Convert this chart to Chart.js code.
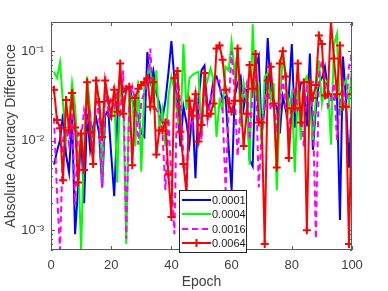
<!DOCTYPE html>
<html><head><meta charset="utf-8">
<script src="https://cdn.jsdelivr.net/npm/chart.js@4/dist/chart.umd.min.js"></script>
<style>html,body{margin:0;padding:0;background:#fff;}#wrap{width:388px;height:291px;}</style>
</head><body><div id="wrap"><canvas id="c" width="388" height="291"></canvas></div>
<script>
const epochs = Array.from({length:100},(_, i)=>i+1);
const seriesLabels = ['0.0001','0.0004','0.0016','0.0064'];
const s0001 = [0.0054,0.0076,0.0102,0.02,0.007,0.0044,0.019,0.0009,0.003,0.012,0.002,0.02,0.008,0.0144,0.018,0.012,0.003,0.019,0.022,0.007,0.0024,0.016,0.05,0.035,0.037,0.04,0.029,0.022,0.019,0.012,0.011,0.098,0.045,0.061,0.034,0.026,0.017,0.028,0.057,0.13,0.048,0.025,0.0086,0.024,0.016,0.009,0.022,0.0038,0.028,0.061,0.069,0.022,0.028,0.048,0.052,0.04,0.029,0.031,0.0086,0.0028,0.031,0.044,0.052,0.023,0.038,0.0061,0.0052,0.067,0.087,0.012,0.024,0.14,0.037,0.026,0.024,0.012,0.031,0.022,0.031,0.12,0.014,0.027,0.044,0.045,0.0144,0.094,0.0079,0.023,0.044,0.05,0.067,0.037,0.031,0.029,0.034,0.0013,0.087,0.029,0.005,0.026];
const s0004 = [0.059,0.05,0.075,0.026,0.0102,0.017,0.044,0.024,0.0067,0.0006,0.009,0.052,0.022,0.007,0.042,0.028,0.0037,0.04,0.03,0.019,0.037,0.0034,0.04,0.028,0.0007,0.035,0.028,0.0086,0.047,0.0045,0.04,0.052,0.067,0.022,0.061,0.013,0.022,0.0086,0.031,0.052,0.037,0.019,0.0138,0.12,0.022,0.05,0.054,0.057,0.059,0.011,0.037,0.047,0.064,0.048,0.011,0.028,0.022,0.067,0.061,0.127,0.057,0.103,0.0144,0.044,0.028,0.0054,0.2,0.031,0.04,0.0086,0.052,0.057,0.028,0.044,0.0028,0.022,0.094,0.048,0.022,0.034,0.0044,0.037,0.0102,0.044,0.052,0.024,0.0102,0.031,0.079,0.026,0.044,0.048,0.009,0.12,0.157,0.019,0.04,0.048,0.026,0.067];
const s0016 = [0.018,0.0026,0.0006,0.0102,0.0144,0.009,0.024,0.0019,0.012,0.0102,0.022,0.016,0.02,0.0072,0.031,0.018,0.003,0.04,0.022,0.03,0.022,0.037,0.018,0.061,0.0008,0.026,0.04,0.028,0.009,0.028,0.034,0.044,0.107,0.026,0.022,0.02,0.013,0.0028,0.018,0.0037,0.0009,0.059,0.024,0.0067,0.003,0.028,0.0144,0.034,0.024,0.0102,0.044,0.017,0.028,0.04,0.045,0.047,0.022,0.0028,0.022,0.1,0.034,0.0067,0.024,0.034,0.044,0.0102,0.034,0.067,0.003,0.012,0.028,0.04,0.022,0.028,0.0144,0.024,0.052,0.022,0.012,0.028,0.04,0.022,0.024,0.0086,0.04,0.034,0.022,0.0008,0.052,0.079,0.04,0.024,0.028,0.044,0.0102,0.028,0.044,0.022,0.067,0.094];
const s0064 = [0.037,0.017,0.0138,0.0036,0.0285,0.013,0.034,0.014,0.0034,0.012,0.0047,0.045,0.0125,0.0055,0.047,0.027,0.011,0.047,0.028,0.019,0.037,0.021,0.073,0.02,0.038,0.04,0.0053,0.03,0.038,0.042,0.045,0.05,0.024,0.045,0.007,0.013,0.013,0.016,0.0042,0.0014,0.05,0.06,0.0126,0.0055,0.0026,0.028,0.019,0.033,0.0098,0.015,0.057,0.019,0.02,0.026,0.107,0.116,0.08,0.037,0.026,0.021,0.028,0.107,0.028,0.0087,0.02,0.07,0.038,0.093,0.016,0.016,0.0007,0.047,0.067,0.026,0.005,0.073,0.1,0.052,0.0064,0.023,0.023,0.073,0.016,0.045,0.001,0.045,0.03,0.042,0.15,0.12,0.032,0.033,0.22,0.083,0.033,0.116,0.024,0.024,0.0007,0.033];
const xTicks = [0,20,40,60,80,100];
const yTicks = [0.001,0.01,0.1];
const yTickText = ['10\u207B\u00B3','10\u207B\u00B2','10\u207B\u00B9'];

const colors = ['#0000ff','#00ff00','#ff00ff','#ff0000'];
const values = [s0001,s0004,s0016,s0064];
const toPts = arr => arr.map((v,i)=>({x:epochs[i], y:v}));

const datasets = values.map((arr,k)=>({
  label: seriesLabels[k],
  data: toPts(arr),
  borderColor: colors[k],
  backgroundColor: colors[k],
  borderWidth: 2,
  borderDash: k===2 ? [6,4] : [],
  pointRadius: k===3 ? 4 : 0,
  pointStyle: 'cross',
  pointBorderWidth: 2,
  pointHoverRadius: 0,
  tension: 0,
  order: 4-k
}));

const TXT = '#404040';
const axesPlugin = {
  id:'axesPlugin',
  afterDatasetsDraw(chart){
    const {ctx, chartArea:a, scales:{x,y}} = chart;
    ctx.save();
    ctx.strokeStyle = '#5a5a5a';
    ctx.lineWidth = 1;
    ctx.strokeRect(a.left+0.5, a.top+0.5, a.right-a.left-1, a.bottom-a.top-1);
    ctx.beginPath();
    xTicks.forEach(v=>{
      const px = Math.round(x.getPixelForValue(v))+0.5;
      ctx.moveTo(px,a.bottom); ctx.lineTo(px,a.bottom-4);
      ctx.moveTo(px,a.top); ctx.lineTo(px,a.top+4);
    });
    for (let e=-4;e<=0;e++){
      for (let m=1;m<=9;m++){
        const v = m*Math.pow(10,e);
        if (v < y.min || v > y.max) continue;
        const py = Math.round(y.getPixelForValue(v))+0.5;
        const len = m===1 ? 4 : 2;
        ctx.moveTo(a.left,py); ctx.lineTo(a.left+len,py);
        ctx.moveTo(a.right,py); ctx.lineTo(a.right-len,py);
      }
    }
    ctx.stroke();
    // legend
    const L=179, T=190, W=67, H=62;
    ctx.fillStyle='#fff';
    ctx.fillRect(L,T,W,H);
    ctx.strokeStyle='#262626';
    ctx.strokeRect(L+0.5,T+0.5,W,H);
    const rows=[200,214,229,243];
    ctx.font='11px "Liberation Sans", Arial, sans-serif';
    ctx.textBaseline='middle';
    chart.data.datasets.forEach((ds,k)=>{
      const yy=rows[k];
      ctx.strokeStyle=ds.borderColor;
      ctx.lineWidth=2;
      ctx.setLineDash(ds.borderDash||[]);
      ctx.beginPath(); ctx.moveTo(182,yy); ctx.lineTo(211,yy); ctx.stroke();
      ctx.setLineDash([]);
      if (ds.pointRadius>0){
        ctx.beginPath();
        ctx.moveTo(196.5-4,yy); ctx.lineTo(196.5+4,yy);
        ctx.moveTo(196.5,yy-4); ctx.lineTo(196.5,yy+4);
        ctx.stroke();
      }
      ctx.fillStyle='#1a1a1a';
      ctx.fillText(ds.label,212,yy+0.5);
    });
    ctx.restore();
  }
};

new Chart(document.getElementById('c'),{
  type:'line',
  data:{datasets},
  options:{
    responsive:false,
    animation:false,
    events:[],
    layout:{padding:{left:0,right:36,top:22,bottom:0}},
    plugins:{legend:{display:false},tooltip:{enabled:false}},
    scales:{
      x:{
        type:'linear', min:0, max:100,
        afterBuildTicks(s){ s.ticks = xTicks.map(v=>({value:v})); },
        afterFit(s){ s.height = 41; },
        grid:{display:false, drawTicks:false},
        border:{display:false},
        ticks:{color:TXT, padding:8, maxRotation:0, font:{family:'"Liberation Sans", Arial, sans-serif', size:13}},
        title:{display:true, text:'Epoch', color:TXT, padding:{top:0,bottom:0}, font:{family:'"Liberation Sans", Arial, sans-serif', size:14}}
      },
      y:{
        type:'logarithmic', min:0.00061, max:0.212,
        afterBuildTicks(s){ s.ticks = yTicks.map(v=>({value:v})); },
        afterFit(s){ s.width = 51; },
        grid:{display:false, drawTicks:false},
        border:{display:false},
        ticks:{color:TXT, padding:7, callback:(v)=>{const i=yTicks.indexOf(v); return i>=0?yTickText[i]:'';}, font:{family:'"Liberation Sans", Arial, sans-serif', size:13}},
        title:{display:true, text:'Absolute Accuracy Difference', color:TXT, padding:{top:3,bottom:0}, font:{family:'"Liberation Sans", Arial, sans-serif', size:14}}
      }
    }
  },
  plugins:[axesPlugin]
});
</script></body></html>
